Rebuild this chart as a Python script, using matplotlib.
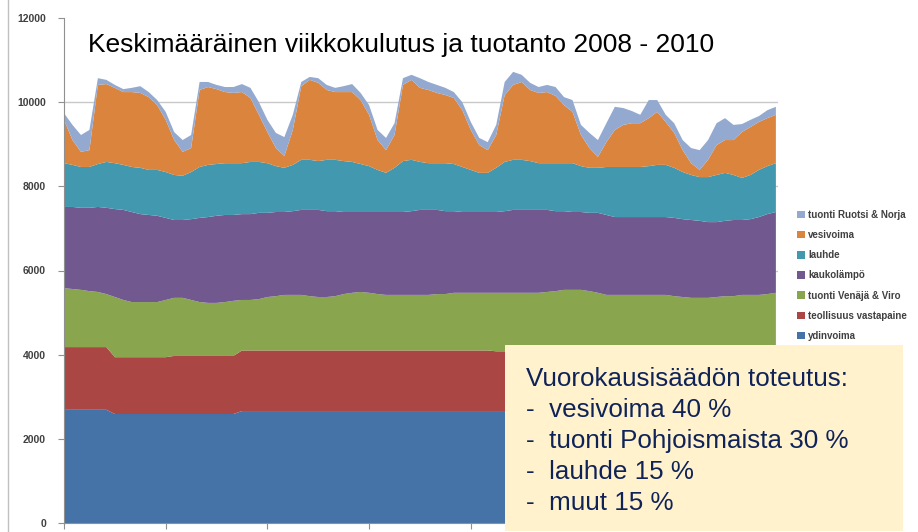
import numpy as np
import matplotlib.pyplot as plt
from matplotlib.patches import Rectangle

# hours of the average week, sampled every 2 h
hours = list(range(0, 169, 2))

# upper edge of each layer in MW (cumulative stack)
top_ydinvoima = [2690] * 6 + [2590] * 15 + [2660] * 64
top_teollisuus = [4180] * 6 + [3940] * 7 + [3970] * 8 + [4100] * 30 + [4080] * 34
top_venaja = [
    5580, 5560, 5540, 5510, 5490, 5440, 5370, 5300, 5250, 5250, 5250, 5250, 5300,
    5350, 5350, 5300, 5250, 5230, 5230, 5250, 5280, 5300, 5300, 5320, 5370, 5390,
    5420, 5420, 5420, 5390, 5370, 5370, 5390, 5440, 5470, 5490, 5470, 5440, 5420,
    5420, 5420, 5420, 5420, 5420, 5440, 5440, 5470, 5470, 5470, 5470, 5470, 5470,
    5470, 5470, 5470, 5470, 5470, 5490, 5510, 5540, 5540, 5540, 5510, 5470, 5420,
    5420, 5420, 5420, 5420, 5420, 5420, 5420, 5390, 5370, 5350, 5350, 5350, 5370,
    5390, 5390, 5420, 5420, 5420, 5440, 5470,
]
top_kaukolampo = [
    7510, 7510, 7490, 7490, 7510, 7490, 7460, 7440, 7390, 7340, 7320, 7300, 7250,
    7200, 7200, 7220, 7250, 7270, 7300, 7320, 7320, 7340, 7340, 7370, 7370, 7390,
    7390, 7410, 7440, 7440, 7440, 7410, 7410, 7390, 7390, 7390, 7390, 7390, 7390,
    7390, 7390, 7410, 7440, 7440, 7440, 7410, 7410, 7390, 7390, 7390, 7390, 7390,
    7410, 7440, 7440, 7440, 7440, 7440, 7410, 7410, 7390, 7390, 7370, 7370, 7320,
    7270, 7270, 7270, 7270, 7270, 7270, 7270, 7250, 7220, 7200, 7180, 7150, 7150,
    7180, 7200, 7200, 7220, 7270, 7340, 7390,
]
top_lauhde = [
    8550, 8510, 8460, 8460, 8530, 8580, 8550, 8510, 8460, 8440, 8390, 8390, 8340,
    8270, 8250, 8340, 8460, 8510, 8530, 8550, 8550, 8550, 8580, 8580, 8550, 8480,
    8440, 8510, 8630, 8630, 8600, 8630, 8630, 8600, 8580, 8530, 8480, 8390, 8320,
    8440, 8600, 8630, 8580, 8550, 8550, 8550, 8530, 8460, 8390, 8320, 8320, 8440,
    8580, 8630, 8630, 8600, 8550, 8550, 8550, 8550, 8550, 8480, 8440, 8440, 8460,
    8460, 8460, 8460, 8460, 8480, 8510, 8510, 8440, 8340, 8270, 8220, 8220, 8270,
    8320, 8270, 8200, 8270, 8390, 8480, 8550,
]
top_vesivoima = [
    9580, 9100, 8820, 8860, 10410, 10430, 10340, 10240, 10240, 10220, 10120, 9930, 9580,
    9100, 8820, 8910, 10290, 10360, 10310, 10240, 10220, 10240, 10100, 9700, 9290, 8910,
    8720, 9340, 10380, 10530, 10460, 10290, 10240, 10240, 10240, 10050, 9700, 9100, 8860,
    9220, 10410, 10530, 10340, 10290, 10220, 10170, 10100, 9810, 9340, 8980, 8860, 9220,
    10170, 10410, 10480, 10290, 10220, 10240, 10150, 9930, 9770, 9220, 8910, 8700, 9050,
    9340, 9460, 9500, 9500, 9620, 9770, 9530, 9270, 8860, 8550, 8390, 8630, 8980,
    9100, 9100, 9290, 9410, 9530, 9620, 9700,
]
top_ruotsi_norja = [
    9740, 9460, 9220, 9340, 10570, 10530, 10410, 10310, 10340, 10380, 10240, 10050, 9770,
    9290, 9100, 9220, 10480, 10480, 10410, 10360, 10360, 10430, 10340, 10000, 9580, 9270,
    9170, 9700, 10480, 10600, 10570, 10410, 10340, 10380, 10430, 10220, 9930, 9340, 9150,
    9500, 10570, 10650, 10570, 10480, 10410, 10340, 10240, 10000, 9530, 9150, 9050, 9460,
    10480, 10720, 10650, 10460, 10360, 10410, 10360, 10120, 10050, 9460, 9270, 9100, 9500,
    9890, 9860, 9790, 9700, 10050, 10050, 9700, 9500, 9100, 8910, 8860, 9100, 9500,
    9620, 9460, 9480, 9580, 9670, 9810, 9890,
]

labels = ["ydinvoima", "teollisuus vastapaine", "tuonti Venäjä & Viro",
          "kaukolämpö", "lauhde", "vesivoima", "tuonti Ruotsi & Norja"]
colors = ["#4572A7", "#AA4643", "#89A54E", "#71588F", "#4198AF", "#DB843D", "#93A9CF"]

tops = np.array([top_ydinvoima, top_teollisuus, top_venaja, top_kaukolampo,
                 top_lauhde, top_vesivoima, top_ruotsi_norja], dtype=float)
layers = np.diff(np.vstack([np.zeros(len(hours)), tops]), axis=0)

plt.rcParams['font.family'] = ['Liberation Sans', 'DejaVu Sans']

fig = plt.figure(figsize=(9.18, 5.32), dpi=100)
ax = fig.add_axes([64 / 918, 9 / 532, 714 / 918, 505 / 532])

ax.stackplot(hours, layers, colors=colors, labels=labels, linewidth=0)

ax.set_xlim(0, 168.5)
ax.set_ylim(0, 12000)
ax.set_yticks(range(0, 12001, 2000))
ax.set_yticklabels([str(v) for v in range(0, 12001, 2000)],
                   fontsize=7.5, fontweight='bold', color='#404040')
ax.set_xticks(range(0, 169, 24))
ax.set_xticklabels([])
ax.tick_params(axis='x', length=4, color='#909090', direction='out')
ax.tick_params(axis='y', length=4, color='#909090', direction='out', pad=9)
ax.grid(axis='y', color='#C8C8C8', linewidth=1)
ax.get_ygridlines()[-1].set_visible(False)
ax.set_axisbelow(True)
for side in ['top', 'right']:
    ax.spines[side].set_visible(False)
for side in ['left', 'bottom']:
    ax.spines[side].set_color('#909090')

ax.text(24 / 714, 1 - 27 / 505, "Keskimääräinen viikkokulutus ja tuotanto 2008 - 2010",
        transform=ax.transAxes, fontsize=19, va='center', ha='left', color='black')

handles, lbls = ax.get_legend_handles_labels()
fig.legend(handles[::-1], lbls[::-1], loc='upper left',
           bbox_to_anchor=(788 / 918, 1 - 201 / 532), frameon=False,
           handlelength=0.8, handleheight=0.8, labelspacing=1.05,
           handletextpad=0.4, prop={'weight': 'bold', 'size': 7})
for t in fig.legends[0].get_texts():
    t.set_color('#404040')

# yellow note box
fig.patches.append(Rectangle((505 / 918, 1 / 532), 398 / 918, 186 / 532,
                             transform=fig.transFigure, facecolor='#FFF2CC',
                             edgecolor='none', zorder=5))
note = ["Vuorokausisäädön toteutus:", "-  vesivoima 40 %",
        "-  tuonti Pohjoismaista 30 %", "-  lauhde 15 %", "-  muut 15 %"]
for i, line in enumerate(note):
    fig.text(526 / 918, 1 - (379 + 31 * i) / 532, line, fontsize=18.7,
             color='#0F2359', va='center', ha='left', zorder=6)

# slide border line on the left
fig.add_artist(plt.Line2D([8 / 918, 8 / 918], [0, 1], color='#C0C0C0',
                          linewidth=1, transform=fig.transFigure))

fig.savefig("out.png", dpi=100)
